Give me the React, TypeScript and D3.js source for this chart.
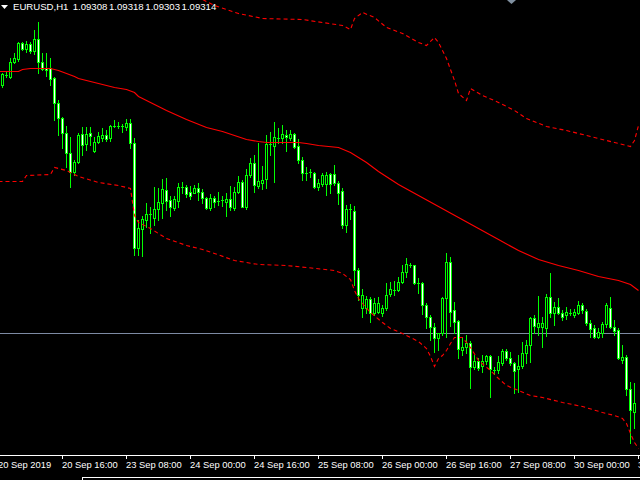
import React from "react";
import * as d3 from "d3";

// ---- header ----
const symbolLabel = "EURUSD,H1";
const headerValues = ["1.09308", "1.09318", "1.09303", "1.09314"];

// ---- time axis (bar index -> label) ----
const tickBars = [0, 16, 32, 48, 64, 80, 96, 112, 128, 144, 160];
const tickLabels = [
  "20 Sep 2019",
  "20 Sep 16:00",
  "23 Sep 08:00",
  "24 Sep 00:00",
  "24 Sep 16:00",
  "25 Sep 08:00",
  "26 Sep 00:00",
  "26 Sep 16:00",
  "27 Sep 08:00",
  "30 Sep 00:00",
  "30 Sep 16:00",
];

// ---- OHLC in price points (1e-5), bars 1..159 ----
const openPts = [
  109810, 109830, 109826, 109856, 109862, 109894, 109882, 109892, 109878, 109902,
  109856, 109844, 109844, 109824, 109774, 109744, 109714, 109674, 109636, 109656,
  109712, 109692, 109714, 109678, 109696, 109704, 109710, 109704, 109728, 109728,
  109728, 109726, 109734, 109694, 109484, 109522, 109540, 109552, 109544, 109562,
  109574, 109600, 109580, 109564, 109578, 109606, 109606, 109596, 109594, 109604,
  109596, 109584, 109564, 109584, 109578, 109580, 109576, 109582, 109564, 109596,
  109616, 109566, 109630, 109654, 109608, 109614, 109622, 109692, 109688, 109704,
  109704, 109710, 109704, 109712, 109688, 109660, 109634, 109636, 109634, 109606,
  109612, 109612, 109632, 109632, 109614, 109598, 109530, 109562, 109558, 109440,
  109364, 109364, 109382, 109354, 109356, 109354, 109364, 109392, 109400, 109400,
  109416, 109436, 109450, 109450, 109414, 109414, 109370, 109346, 109326, 109304,
  109314, 109384, 109456, 109360, 109338, 109280, 109286, 109294, 109246, 109258,
  109248, 109258, 109268, 109240, 109240, 109254, 109278, 109264, 109254, 109242,
  109248, 109274, 109290, 109344, 109326, 109326, 109324, 109386, 109354, 109366,
  109354, 109350, 109354, 109350, 109354, 109370, 109358, 109334, 109324, 109306,
  109314, 109332, 109364, 109326, 109320, 109260, 109266, 109202, 109156,
];
const highPts = [
  109834, 109836, 109864, 109874, 109896, 109896, 109898, 109896, 109920, 109936,
  109874, 109874, 109864, 109826, 109780, 109746, 109728, 109706, 109660, 109714,
  109726, 109726, 109726, 109706, 109716, 109724, 109720, 109730, 109740, 109736,
  109732, 109742, 109742, 109704, 109540, 109548, 109574, 109566, 109606, 109604,
  109622, 109624, 109588, 109588, 109614, 109616, 109610, 109608, 109610, 109614,
  109602, 109586, 109592, 109588, 109596, 109588, 109594, 109608, 109606, 109628,
  109620, 109642, 109664, 109670, 109694, 109648, 109710, 109716, 109736, 109724,
  109730, 109720, 109720, 109714, 109702, 109666, 109646, 109642, 109636, 109622,
  109634, 109636, 109634, 109650, 109618, 109604, 109570, 109572, 109568, 109444,
  109402, 109388, 109386, 109384, 109386, 109370, 109414, 109416, 109418, 109426,
  109450, 109464, 109454, 109450, 109424, 109416, 109374, 109350, 109334, 109314,
  109386, 109474, 109466, 109376, 109340, 109306, 109310, 109298, 109270, 109264,
  109270, 109270, 109270, 109246, 109268, 109282, 109282, 109276, 109256, 109270,
  109296, 109300, 109346, 109350, 109388, 109346, 109392, 109434, 109376, 109384,
  109360, 109366, 109362, 109362, 109378, 109374, 109362, 109340, 109330, 109324,
  109336, 109374, 109386, 109340, 109324, 109290, 109270, 109216, 109214,
];
const lowPts = [
  109806, 109826, 109824, 109854, 109858, 109880, 109876, 109874, 109872, 109834,
  109840, 109828, 109810, 109740, 109710, 109684, 109646, 109606, 109630, 109654,
  109670, 109680, 109690, 109676, 109694, 109698, 109698, 109698, 109726, 109724,
  109716, 109720, 109684, 109470, 109470, 109468, 109526, 109514, 109530, 109540,
  109544, 109560, 109548, 109560, 109566, 109594, 109586, 109582, 109594, 109580,
  109574, 109562, 109560, 109566, 109570, 109568, 109548, 109560, 109560, 109594,
  109566, 109562, 109626, 109596, 109604, 109602, 109604, 109670, 109616, 109694,
  109694, 109678, 109700, 109684, 109654, 109620, 109620, 109626, 109604, 109600,
  109608, 109590, 109594, 109610, 109572, 109524, 109516, 109542, 109410, 109380,
  109346, 109354, 109336, 109350, 109354, 109348, 109360, 109388, 109390, 109398,
  109414, 109426, 109446, 109412, 109394, 109352, 109324, 109300, 109276, 109280,
  109310, 109306, 109328, 109314, 109264, 109270, 109274, 109204, 109242, 109240,
  109236, 109252, 109186, 109232, 109234, 109250, 109260, 109250, 109194, 109196,
  109244, 109254, 109256, 109314, 109310, 109286, 109308, 109346, 109330, 109352,
  109340, 109342, 109350, 109346, 109352, 109354, 109330, 109306, 109304, 109304,
  109306, 109326, 109324, 109310, 109262, 109254, 109190, 109094, 109124,
];
const closePts = [
  109832, 109830, 109856, 109864, 109894, 109882, 109892, 109878, 109902, 109856,
  109842, 109840, 109822, 109774, 109744, 109714, 109674, 109636, 109656, 109710,
  109690, 109712, 109708, 109696, 109708, 109710, 109702, 109728, 109728, 109728,
  109728, 109734, 109694, 109484, 109524, 109542, 109552, 109552, 109562, 109576,
  109602, 109578, 109566, 109582, 109606, 109606, 109592, 109588, 109604, 109596,
  109584, 109564, 109584, 109576, 109578, 109580, 109582, 109566, 109596, 109616,
  109566, 109630, 109654, 109610, 109618, 109620, 109692, 109692, 109706, 109704,
  109712, 109706, 109712, 109686, 109660, 109634, 109634, 109636, 109606, 109614,
  109630, 109630, 109612, 109614, 109594, 109530, 109562, 109562, 109440, 109390,
  109390, 109382, 109354, 109374, 109374, 109364, 109390, 109402, 109400, 109416,
  109436, 109452, 109450, 109414, 109414, 109370, 109346, 109326, 109304, 109314,
  109384, 109456, 109356, 109336, 109282, 109286, 109294, 109246, 109258, 109244,
  109258, 109268, 109242, 109240, 109256, 109278, 109264, 109254, 109238, 109248,
  109274, 109290, 109344, 109328, 109334, 109334, 109386, 109354, 109366, 109354,
  109346, 109356, 109354, 109356, 109370, 109360, 109334, 109322, 109306, 109316,
  109332, 109370, 109326, 109318, 109264, 109266, 109202, 109160, 109174,
];

// ---- moving average (solid red), sampled at bar indices ----
const maBars = [0, 5, 6, 8, 13, 15, 17, 19, 20, 25, 29, 32, 34, 35, 36, 42, 47, 52, 56, 59, 62, 65, 67, 75, 77, 80, 85, 88, 92, 95, 100, 105, 110, 115, 120, 125, 130, 135, 140, 145, 150, 155, 158, 160];
const maPts = [109838, 109838, 109842, 109844, 109844, 109840, 109834, 109828, 109824, 109814, 109806, 109802, 109796, 109788, 109784, 109760, 109742, 109726, 109718, 109710, 109702, 109698, 109696, 109696, 109694, 109690, 109686, 109676, 109656, 109638, 109612, 109590, 109568, 109546, 109524, 109502, 109480, 109462, 109450, 109440, 109428, 109420, 109412, 109400];

// ---- upper band (dashed red) ----
const upperBars = [0, 16, 33, 46, 51, 54, 60, 66, 76, 81, 86, 88, 89, 91, 94, 97, 101, 105, 107, 109, 110, 112, 114, 115, 117, 118, 121, 124, 129, 132, 137, 142, 149, 154, 158, 159, 160];
const upperPts = [110070, 110060, 110030, 109996, 109982, 109970, 109954, 109944, 109942, 109936, 109930, 109922, 109944, 109956, 109946, 109926, 109914, 109896, 109890, 109906, 109896, 109864, 109820, 109794, 109780, 109804, 109790, 109780, 109760, 109744, 109728, 109720, 109706, 109696, 109688, 109700, 109730];

// ---- lower band (dashed red) ----
const lowerBars = [0, 6, 7, 13, 14, 17, 20, 25, 30, 33, 34, 35, 38, 42, 47, 51, 54, 59, 65, 72, 77, 84, 86, 88, 89, 90, 91, 93, 96, 98, 101, 103, 105, 107, 108, 109, 110, 111, 112, 113, 114, 116, 118, 120, 123, 125, 127, 130, 133, 136, 141, 146, 151, 154, 156, 157, 158, 159, 160];
const lowerPts = [109618, 109618, 109630, 109632, 109646, 109640, 109628, 109616, 109610, 109604, 109550, 109536, 109524, 109504, 109490, 109482, 109474, 109460, 109452, 109450, 109446, 109440, 109434, 109422, 109400, 109384, 109374, 109356, 109336, 109324, 109314, 109306, 109298, 109284, 109268, 109248, 109264, 109270, 109280, 109294, 109306, 109306, 109286, 109260, 109240, 109224, 109210, 109200, 109190, 109186, 109176, 109168, 109156, 109150, 109144, 109134, 109114, 109096, 109084];

const bidPts = 109314;

const W = 640;
const H = 480;
const AXIS_Y = 455;
const FONT = "'Liberation Sans', Arial, sans-serif";

export default function App() {
  const toP = (v: number) => v / 1e5;
  const x = d3.scaleLinear().domain([0, 160]).range([-2, 638]);
  const y = d3.scaleLinear().domain([1.0907, 1.0998]).range([AXIS_Y, 0]);

  const candles = openPts.map((o, i) => ({
    bar: i + 1,
    o: toP(o),
    h: toP(highPts[i]),
    l: toP(lowPts[i]),
    c: toP(closePts[i]),
  }));

  const mkLine = (bars: number[], pts: number[]) =>
    d3
      .line<number>()
      .x((_, i) => x(bars[i]) + 0.5)
      .y((d) => y(toP(d)) + 0.5)(pts) || "";

  const maPath = mkLine(maBars, maPts);
  const upPath = mkLine(upperBars, upperPts);
  const loPath = mkLine(lowerBars, lowerPts);
  const bidY = Math.round(y(toP(bidPts))) + 0.5;

  const lime = "#00ff00";

  return (
    <svg
      width={W}
      height={H}
      style={{ position: "fixed", left: 0, top: 0, display: "block", background: "#000" }}
    >
      <rect x={0} y={0} width={W} height={H} fill="#000" />
      <defs>
        <clipPath id="plotClip">
          <rect x={0} y={0} width={W} height={AXIS_Y} />
        </clipPath>
      </defs>
      <g clipPath="url(#plotClip)">
        <line x1={0} x2={W} y1={bidY} y2={bidY} stroke="#7d8aa3" strokeWidth={1} shapeRendering="crispEdges" />
        <g shapeRendering="crispEdges">
          {candles.map((d) => {
            const cx = Math.round(x(d.bar));
            const yH = Math.round(y(d.h));
            const yL = Math.round(y(d.l));
            const yO = Math.round(y(d.o));
            const yC = Math.round(y(d.c));
            const top = Math.min(yO, yC);
            const bot = Math.max(yO, yC);
            const bear = d.c < d.o;
            return (
              <g key={d.bar}>
                <line x1={cx + 0.5} x2={cx + 0.5} y1={yH} y2={yL + 1} stroke={lime} strokeWidth={1} />
                {bot - top < 1 ? (
                  <line x1={cx - 1} x2={cx + 2} y1={top + 0.5} y2={top + 0.5} stroke={lime} strokeWidth={1} />
                ) : (
                  <rect
                    x={cx - 0.5}
                    y={top + 0.5}
                    width={2}
                    height={bot - top}
                    fill={bear ? "#ffffff" : "#000000"}
                    stroke={lime}
                    strokeWidth={1}
                  />
                )}
              </g>
            );
          })}
        </g>
        <path d={upPath} fill="none" stroke="#ff0000" strokeWidth={1.1} strokeDasharray="4,3" />
        <path d={loPath} fill="none" stroke="#ff0000" strokeWidth={1.1} strokeDasharray="4,3" />
        <path d={maPath} fill="none" stroke="#ff0000" strokeWidth={1.15} />
        <polygon points="507,0 516,0 511.5,4" fill="#8090a0" />
      </g>

      {/* header */}
      <polygon points="1,5 8,5 4.5,9" fill="#ffffff" />
      <text x={13} y={10} fill="#ffffff" fontFamily={FONT} fontSize={9.6}>
        {symbolLabel}
      </text>
      {headerValues.map((v, i) => (
        <text key={v + i} x={72.7 + i * 36.3} y={10} fill="#ffffff" fontFamily={FONT} fontSize={9.6}>
          {v}
        </text>
      ))}

      {/* time axis */}
      <line x1={0} x2={W} y1={AXIS_Y + 0.5} y2={AXIS_Y + 0.5} stroke="#ffffff" strokeWidth={1} shapeRendering="crispEdges" />
      {tickBars.map((b, i) => {
        const tx = Math.round(x(b)) + 0.5;
        return (
          <g key={b}>
            <line x1={tx} x2={tx} y1={AXIS_Y} y2={AXIS_Y + 4} stroke="#ffffff" strokeWidth={1} shapeRendering="crispEdges" />
            <text x={tx - 0.5} y={468} fill="#ffffff" fontFamily={FONT} fontSize={9.4}>
              {tickLabels[i]}
            </text>
          </g>
        );
      })}
      <line x1={82} x2={W} y1={477.5} y2={477.5} stroke="#ffffff" strokeWidth={1} shapeRendering="crispEdges" />
      <line x1={82.5} x2={82.5} y1={477} y2={H} stroke="#ffffff" strokeWidth={1} shapeRendering="crispEdges" />
    </svg>
  );
}
